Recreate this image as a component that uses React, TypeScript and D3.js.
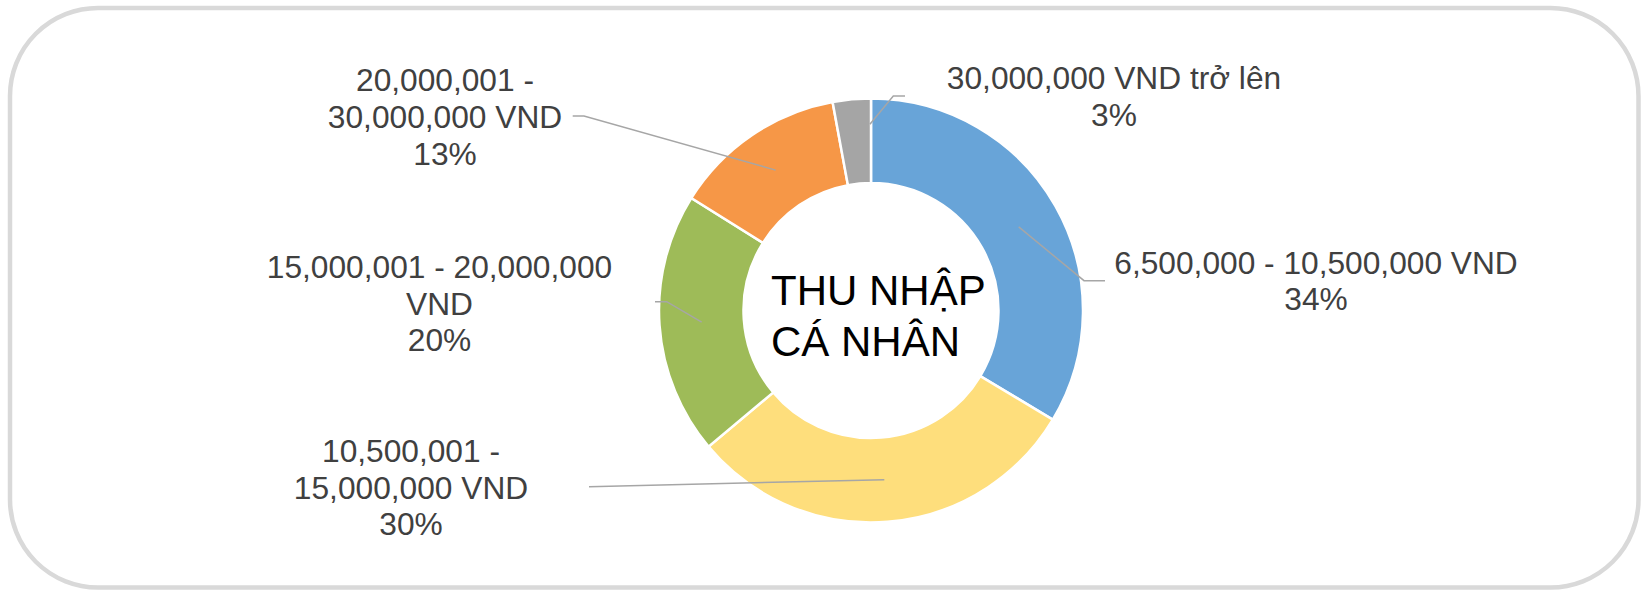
import React from "react";
import { pie, arc, PieArcDatum } from "d3";

// income brackets, clockwise from 12 o'clock
const categories = [
  "6,500,000 - 10,500,000 VND",
  "10,500,001 - 15,000,000 VND",
  "15,000,001 - 20,000,000 VND",
  "20,000,001 - 30,000,000 VND",
  "30,000,000 VND trở lên",
];
const shares = [33.6, 30.3, 20.0, 13.2, 2.9];
const labelLines = [
  ["6,500,000 - 10,500,000 VND"],
  ["10,500,001 -", "15,000,000 VND"],
  ["15,000,001 - 20,000,000", "VND"],
  ["20,000,001 -", "30,000,000 VND"],
  ["30,000,000 VND trở lên"],
];
const centerTitle = ["THU NHẬP", "CÁ NHÂN"];

const colors = ["#68A4D8", "#FEDE7C", "#9EBB58", "#F69747", "#A5A5A5"];

// label placement (text centre, first baseline, leader elbow + end, how far the leader reaches in)
const labelLayout = [
  { x: 1316, y: 273.5, elbow: [1084, 280.7], end: [1105, 280.7], reach: 1 },
  { x: 411, y: 461.7, elbow: [589, 486.7], end: [589, 486.7], reach: 1 },
  { x: 439.5, y: 277.7, elbow: [666.7, 301.7], end: [655, 301.7], reach: 1 },
  { x: 445, y: 91, elbow: [584, 116], end: [572.7, 116], reach: 1 },
  { x: 1114, y: 89.3, elbow: [893.3, 96], end: [905, 96], reach: 0.62 },
];

const W = 1641;
const H = 590;
const cx = 871;
const cy = 310.5;
const outerR = 212;
const innerR = 127.5;
const lineH = 36.8;

export default function App() {
  const total = shares.reduce((a, b) => a + b, 0);
  const slices = pie<number>().sort(null).startAngle(0).endAngle(2 * Math.PI)(shares);
  const sliceArc = arc<PieArcDatum<number>>().innerRadius(innerR).outerRadius(outerR);

  return (
    <svg
      width={W}
      height={H}
      style={{ position: "absolute", left: 0, top: 0 }}
      fontFamily="'Liberation Sans', Arial, sans-serif"
    >
      <rect x={0} y={0} width={W} height={H} fill="#fff" />
      <rect
        x={10}
        y={8}
        width={1628.5}
        height={579.5}
        rx={88}
        ry={88}
        fill="#fff"
        stroke="#D9D9D9"
        strokeWidth={4.5}
      />

      <g transform={`translate(${cx},${cy})`}>
        {slices.map((s, i) => (
          <path key={categories[i]} d={sliceArc(s) || ""} fill={colors[i]} stroke="#fff" strokeWidth={2.5} />
        ))}
      </g>

      {/* leader lines */}
      {slices.map((s, i) => {
        const [mx, my] = sliceArc.centroid(s);
        const L = labelLayout[i];
        const px = cx + mx;
        const py = cy + my;
        const sx = L.elbow[0] + (px - L.elbow[0]) * L.reach;
        const sy = L.elbow[1] + (py - L.elbow[1]) * L.reach;
        return (
          <polyline
            key={"l" + i}
            points={`${sx},${sy} ${L.elbow[0]},${L.elbow[1]} ${L.end[0]},${L.end[1]}`}
            fill="none"
            stroke="#A6A6A6"
            strokeWidth={1.5}
          />
        );
      })}

      {/* data labels */}
      {slices.map((s, i) => {
        const L = labelLayout[i];
        const lines = [...labelLines[i], `${Math.round((s.data / total) * 100)}%`];
        return (
          <text key={"t" + i} x={L.x} y={L.y} fontSize={31.7} fill="#404040" textAnchor="middle">
            {lines.map((ln, j) => (
              <tspan key={j} x={L.x} y={L.y + j * lineH}>
                {ln}
              </tspan>
            ))}
          </text>
        );
      })}

      <text fontSize={42} fill="#000">
        {centerTitle.map((ln, j) => (
          <tspan key={j} x={771} y={305 + j * 51}>
            {ln}
          </tspan>
        ))}
      </text>
    </svg>
  );
}
